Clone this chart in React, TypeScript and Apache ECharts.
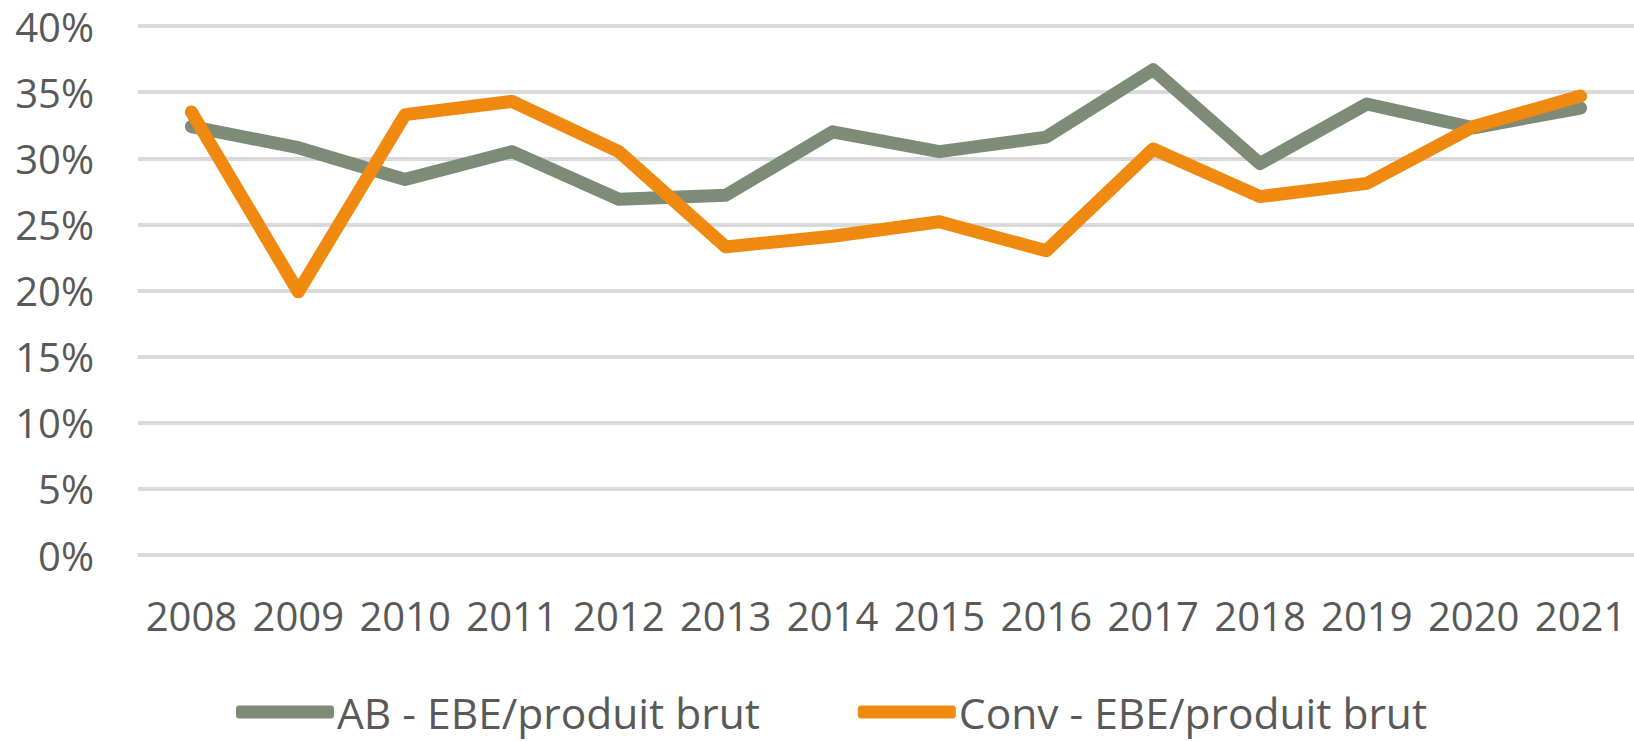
import React, { useEffect, useRef } from "react";
import * as echarts from "echarts";

const years = ["2008","2009","2010","2011","2012","2013","2014","2015","2016","2017","2018","2019","2020","2021"];
const abValues = [32.4, 30.8, 28.4, 30.5, 26.9, 27.2, 32.0, 30.5, 31.6, 36.7, 29.6, 34.1, 32.3, 33.8];
const convValues = [33.5, 19.9, 33.3, 34.3, 30.5, 23.3, 24.1, 25.2, 23.0, 30.7, 27.1, 28.1, 32.4, 34.7];
const abName = "AB - EBE/produit brut";
const convName = "Conv - EBE/produit brut";

const FONT = "Open Sans";
const TEXT = "#595959";
const GREEN = "#7E8B77";
const ORANGE = "#F0890F";

export default function App() {
  const ref = useRef<HTMLDivElement>(null);
  useEffect(() => {
    if (!ref.current) return;
    const chart = echarts.init(ref.current, undefined, { renderer: "svg" });
    chart.setOption({
      animation: false,
      backgroundColor: "#ffffff",
      textStyle: { fontFamily: FONT },
      grid: { left: 138, right: 0, top: 26, bottom: 186, containLabel: false },
      legend: {
        left: 236,
        top: 690,
        padding: 0,
        itemGap: 98,
        itemWidth: 98,
        itemHeight: 13,
        icon: "roundRect",
        textStyle: {
          fontFamily: FONT,
          fontSize: 42.5,
          lineHeight: 44,
          color: TEXT,
          padding: [0, 0, 0, -2],
        },
        data: [abName, convName],
      },
      xAxis: {
        type: "category",
        data: years,
        boundaryGap: true,
        axisLine: { show: false },
        axisTick: { show: false },
        axisLabel: { fontFamily: FONT, fontSize: 40, color: TEXT, margin: 40, interval: 0 },
      },
      yAxis: {
        type: "value",
        min: 0,
        max: 40,
        interval: 5,
        axisLine: { show: false },
        axisTick: { show: false },
        axisLabel: {
          fontFamily: FONT,
          fontSize: 40,
          color: TEXT,
          margin: 44,
          formatter: (v: number) => `${v}%`,
        },
        splitLine: { lineStyle: { color: "#D9D9D9", width: 4 } },
      },
      series: [
        {
          name: abName,
          type: "line",
          data: abValues,
          symbol: "none",
          color: GREEN,
          lineStyle: { color: GREEN, width: 13, cap: "round", join: "round" },
          itemStyle: { color: GREEN },
        },
        {
          name: convName,
          type: "line",
          data: convValues,
          symbol: "none",
          color: ORANGE,
          lineStyle: { color: ORANGE, width: 13, cap: "round", join: "round" },
          itemStyle: { color: ORANGE },
        },
      ],
    });
    return () => chart.dispose();
  }, []);
  return (
    <div
      ref={ref}
      style={{ position: "fixed", left: 0, top: 0, width: 1634, height: 741 }}
    />
  );
}
